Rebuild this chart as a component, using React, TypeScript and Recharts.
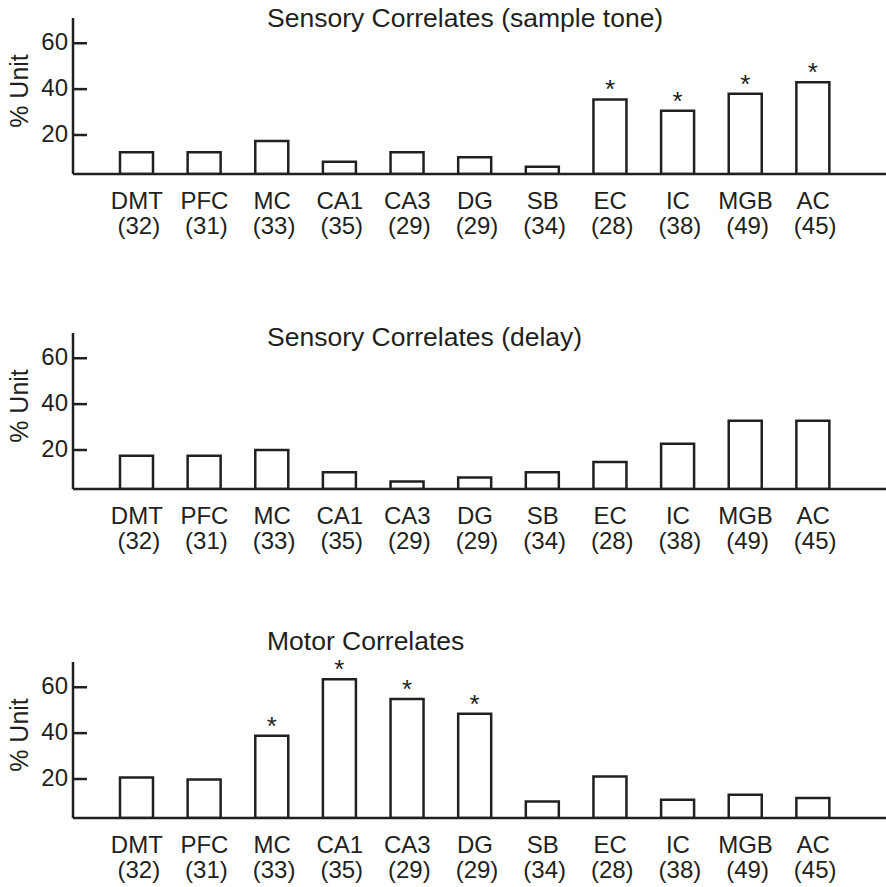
import { BarChart, Bar, XAxis, YAxis, LabelList } from 'recharts'

// brain regions and number of units recorded in each
const REGIONS = ['DMT', 'PFC', 'MC', 'CA1', 'CA3', 'DG', 'SB', 'EC', 'IC', 'MGB', 'AC']
const UNIT_COUNTS = [32, 31, 33, 35, 29, 29, 34, 28, 38, 49, 45]

// % of units correlated, per panel
const SAMPLE_TONE = [12.5, 12.5, 17.4, 8.3, 12.5, 10.3, 6.2, 35.5, 30.6, 38, 43]
const SAMPLE_TONE_SIG = [false, false, false, false, false, false, false, true, true, true, true]

const DELAY = [17.5, 17.5, 20, 10.3, 6.3, 8, 10.3, 14.8, 22.7, 32.7, 32.7]
const DELAY_SIG = [false, false, false, false, false, false, false, false, false, false, false]

const MOTOR = [20.7, 19.8, 38.8, 63.5, 54.9, 48.4, 10.2, 21.1, 11, 13.1, 11.7]
const MOTOR_SIG = [false, false, true, true, true, true, false, false, false, false, false]

const Y_TICKS = [20, 40, 60]
const Y_DOMAIN = [3, 71]

const INK = '#231f20'
const FONT = '"Liberation Sans", Arial, Helvetica, sans-serif'

function RegionTick(props: any) {
  const { x, y, payload, index } = props
  return (
    <g>
      <text x={x} y={y + 35} textAnchor="middle" fontSize={24} fill={INK} fontFamily={FONT}>
        {payload.value}
      </text>
      <text x={x + 2} y={y + 60} textAnchor="middle" fontSize={24} fill={INK} fontFamily={FONT}>
        ({UNIT_COUNTS[index]})
      </text>
    </g>
  )
}

// tick marks point into the plot
function ValueTick(props: any) {
  const { x, y, payload } = props
  return (
    <g>
      <line x1={x} x2={x + 14} y1={y} y2={y} stroke={INK} strokeWidth={2.5} />
      <text x={x - 5} y={y + 7} textAnchor="end" fontSize={24} fill={INK} fontFamily={FONT}>
        {payload.value}
      </text>
    </g>
  )
}

function unitLabel(props: any) {
  const vb = props.viewBox || { y: 18, height: 156 }
  const cx = 28
  const cy = vb.y + vb.height / 2 - 5
  return (
    <text
      x={cx}
      y={cy}
      transform={`rotate(-90, ${cx}, ${cy})`}
      textAnchor="middle"
      fontSize={25}
      fill={INK}
      fontFamily={FONT}
    >
      % Unit
    </text>
  )
}

interface PanelProps {
  title: string
  values: number[]
  sig: boolean[]
  top: number
  titleBaseline: number
}

function Panel({ title, values, sig, top, titleBaseline }: PanelProps) {
  const data = REGIONS.map((region, i) => ({
    region,
    value: values[i],
    star: sig[i] ? '*' : '',
  }))

  return (
    <>
      <div
        style={{
          position: 'absolute',
          left: 267,
          top: titleBaseline - 20,
          fontFamily: FONT,
          fontSize: 26.5,
          lineHeight: '22px',
          color: INK,
          whiteSpace: 'nowrap',
        }}
      >
        {title}
      </div>
      <div style={{ position: 'absolute', left: 0, top }}>
        <BarChart width={886} height={240} data={data} margin={{ top: 18, right: 0, bottom: 0, left: 0 }}>
          <XAxis
            dataKey="region"
            axisLine={{ stroke: INK, strokeWidth: 2.5 }}
            tickLine={false}
            tickSize={0}
            tickMargin={0}
            interval={0}
            height={66}
            padding={{ left: 30, right: 39 }}
            tick={<RegionTick />}
          />
          <YAxis
            type="number"
            domain={Y_DOMAIN}
            ticks={Y_TICKS}
            allowDataOverflow
            width={73}
            axisLine={{ stroke: INK, strokeWidth: 2.5 }}
            tickLine={false}
            tickSize={0}
            tickMargin={0}
            tick={<ValueTick />}
            label={unitLabel}
          />
          <Bar dataKey="value" fill="#fff" stroke={INK} strokeWidth={2.5} barSize={33} isAnimationActive={false}>
            <LabelList dataKey="star" position="top" offset={1} fontSize={26} fill={INK} fontFamily={FONT} />
          </Bar>
        </BarChart>
      </div>
    </>
  )
}

export default function App() {
  return (
    <div style={{ position: 'absolute', left: 0, top: 0, width: 886, height: 887, background: '#fff' }}>
      <Panel title="Sensory Correlates (sample tone)" values={SAMPLE_TONE} sig={SAMPLE_TONE_SIG} top={0} titleBaseline={27} />
      <Panel title="Sensory Correlates (delay)" values={DELAY} sig={DELAY_SIG} top={315} titleBaseline={346} />
      <Panel title="Motor Correlates" values={MOTOR} sig={MOTOR_SIG} top={644} titleBaseline={650} />
    </div>
  )
}
